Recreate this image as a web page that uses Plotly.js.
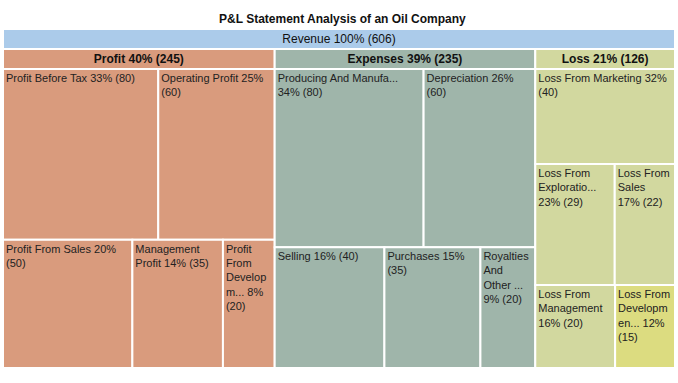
<!DOCTYPE html>
<html>
<head>
<meta charset="utf-8">
<script src="https://cdn.plot.ly/plotly-3.0.1.min.js"></script>
<style>
html,body{margin:0;padding:0;background:#ffffff;}
#chart{width:678px;height:383px;}
</style>
</head>
<body>
<div id="chart"></div>
<script>
// ---- data ----
const ids = ["Revenue","Profit","Expenses","Loss",
  "Profit Before Tax","Operating Profit","Profit From Sales","Management Profit","Profit From Development",
  "Producing And Manufacturing","Depreciation","Selling","Purchases","Royalties And Other Expenses",
  "Loss From Marketing","Loss From Exploration","Loss From Sales","Loss From Management","Loss From Development"];
const parents = ["","Revenue","Revenue","Revenue",
  "Profit","Profit","Profit","Profit","Profit",
  "Expenses","Expenses","Expenses","Expenses","Expenses",
  "Loss","Loss","Loss","Loss","Loss"];
const values = [606,245,235,126,
  80,60,50,35,20,
  80,60,40,35,20,
  40,29,22,20,15];
const percents = [100,40,39,21,
  33,25,20,14,8,
  34,26,16,15,9,
  32,23,17,16,12];
// text as shown in the cells ({p} = percent, {v} = value)
const shownText = [
  "Revenue {p}% ({v})","<b>Profit {p}% ({v})</b>","<b>Expenses {p}% ({v})</b>","<b>Loss {p}% ({v})</b>",
  "Profit Before Tax {p}% ({v})","Operating Profit {p}%<br>({v})","Profit From Sales {p}%<br>({v})","Management<br>Profit {p}% ({v})","Profit<br>From<br>Develop<br>m... {p}%<br>({v})",
  "Producing And Manufa...<br>{p}% ({v})","Depreciation {p}%<br>({v})","Selling {p}% ({v})","Purchases {p}%<br>({v})","Royalties<br>And<br>Other ...<br>{p}% ({v})",
  "Loss From Marketing {p}%<br>({v})","Loss From<br>Exploratio...<br>{p}% ({v})","Loss From<br>Sales<br>{p}% ({v})","Loss From<br>Management<br>{p}% ({v})","Loss From<br>Developm<br>en... {p}%<br>({v})"];
const colors = ["#abcbea","#d99b7d","#9fb5aa","#d2d89f",
  "#d99b7d","#d99b7d","#d99b7d","#d99b7d","#d99b7d",
  "#9fb5aa","#9fb5aa","#9fb5aa","#9fb5aa","#9fb5aa",
  "#d2d89f","#d2d89f","#d2d89f","#d2d89f","#dcdc80"];

// ---- build ----
const isParent = ids.map(id => parents.indexOf(id) !== -1);
const fullText = shownText.map((t,i) => t.replace("{p}", percents[i]).replace("{v}", values[i]));
const headerLabels = fullText.map((t,i) => isParent[i] ? t : " ");
const leafLabels = fullText.map((t,i) => isParent[i] ? " " : t);

const common = {
  type: "treemap",
  ids: ids, parents: parents, values: values,
  branchvalues: "total", sort: false,
  tiling: {packing: "squarify", squarifyratio: 1, pad: 0},
  pathbar: {visible: false},
  hoverinfo: "skip",
  textinfo: "label",
  domain: {x: [0,1], y: [0,1]}
};

const traceA = Object.assign({}, common, {
  labels: headerLabels,
  textposition: "top center",
  textfont: {family: "Liberation Sans, Arial, sans-serif", size: 12, color: "#111111"},
  marker: {colors: colors, line: {color: "#ffffff", width: 2}, pad: {t: 20, l: 0, r: 0, b: 0}},
  leaf: {opacity: 1}
});
const traceB = Object.assign({}, common, {
  labels: leafLabels,
  textposition: "top left",
  textfont: {family: "Liberation Sans, Arial, sans-serif", size: 11, color: "#222222"},
  marker: {colors: ids.map(() => "rgba(0,0,0,0)"), line: {color: "rgba(0,0,0,0)", width: 0}, pad: {t: 20, l: 0, r: 0, b: 0}},
  leaf: {opacity: 1}
});

const layout = {
  width: 678, height: 383,
  margin: {l: 3, r: 3, t: 29, b: 15},
  paper_bgcolor: "#ffffff",
  title: {
    text: "<b>P&L Statement Analysis of an Oil Company</b>",
    font: {family: "Liberation Sans, Arial, sans-serif", size: 12, color: "#111111"},
    x: 0.505, xanchor: "center", y: 0.95, yanchor: "middle"
  },
  showlegend: false
};

Plotly.newPlot("chart", [traceA, traceB], layout, {displayModeBar: false, staticPlot: true});
</script>
</body>
</html>
